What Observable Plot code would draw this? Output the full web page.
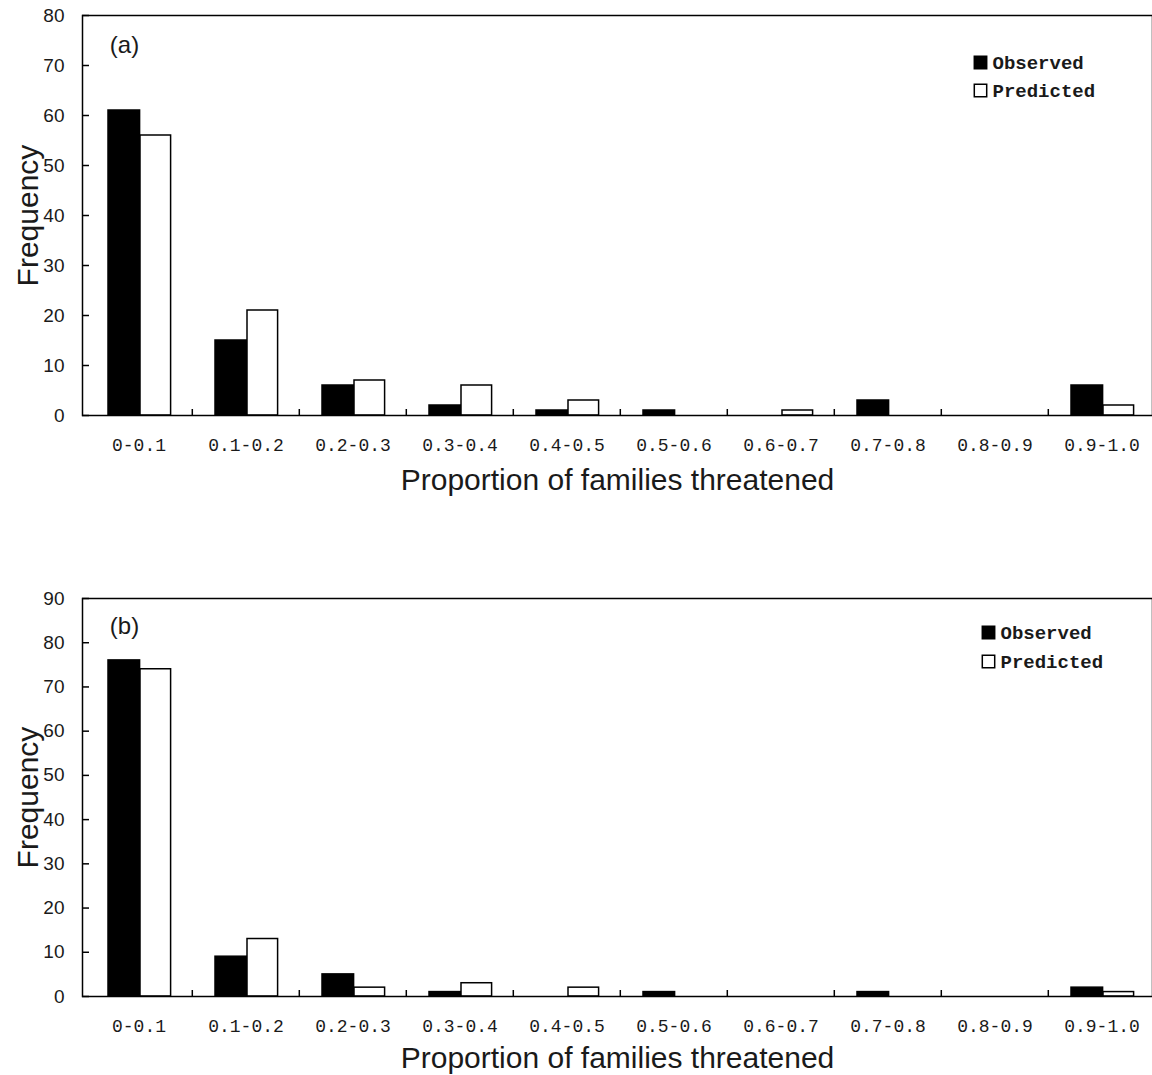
<!DOCTYPE html>
<html>
<head>
<meta charset="utf-8">
<script src="https://cdn.jsdelivr.net/npm/d3@7"></script>
<script src="https://cdn.jsdelivr.net/npm/@observablehq/plot@0.6"></script>
<style>
  html, body { margin: 0; padding: 0; background: #fff; overflow: hidden; }
  #chart > svg { display: block; }
</style>
</head>
<body>
<div id="chart"></div>
<script>
// ---- data ----
const categories = ["0-0.1","0.1-0.2","0.2-0.3","0.3-0.4","0.4-0.5","0.5-0.6","0.6-0.7","0.7-0.8","0.8-0.9","0.9-1.0"];
const observedA  = [61, 15, 6, 2, 1, 1, 0, 3, 0, 6];
const predictedA = [56, 21, 7, 6, 3, 0, 1, 0, 0, 2];
const observedB  = [76, 9, 5, 1, 0, 1, 0, 1, 0, 2];
const predictedB = [74, 13, 2, 3, 2, 0, 0, 0, 0, 1];
const yTicksA = [0, 10, 20, 30, 40, 50, 60, 70, 80];
const yTicksB = [0, 10, 20, 30, 40, 50, 60, 70, 80, 90];
const seriesNames = ["Observed", "Predicted"];
const xLabel = "Proportion of families threatened";
const yLabel = "Frequency";

const W = 1152;
const mL = 82;
const xRange = [82.5, 1156.5];
const bw = (xRange[1] - xRange[0]) / categories.length;
const sans = "Liberation Sans, Arial, sans-serif";
const mono = "Liberation Mono, Courier New, monospace";
const ink = "#1a1a1a";

function panel({obs, pred, yMax, yTicks, height, mT, mB, tag, tagDy, legDx, legDy, legGap, labDy}) {
  const plotH = height - mT - mB;
  const plotW = W - mL;
  const rows = categories.map((c, i) => ({cat: c, obs: obs[i], pred: pred[i]}));
  return Plot.plot({
    width: W, height,
    marginLeft: mL, marginRight: 0, marginTop: mT, marginBottom: mB,
    style: {background: "white", overflow: "visible"},
    x: {type: "band", domain: categories, range: xRange, padding: 0},
    y: {domain: [0, yMax]},
    marks: [
      Plot.rectY(rows.filter(d => d.obs > 0), {
        x: "cat", y: "obs", fill: "black", stroke: "black", strokeWidth: 1.5,
        insetLeft: 23, insetRight: bw - 55
      }),
      Plot.rectY(rows.filter(d => d.pred > 0), {
        x: "cat", y: "pred", fill: "white", stroke: "black", strokeWidth: 1.5,
        insetLeft: 55, insetRight: bw - 86
      }),
      Plot.ruleY(yTicks, {stroke: "black", strokeWidth: 1.5, insetRight: plotW - 7}),
      Plot.ruleX(categories.slice(1), {x: d => d, dx: -bw / 2, stroke: "black", strokeWidth: 1.5, insetTop: plotH - 6}),
      Plot.frame({stroke: "black", strokeWidth: 1.5}),
      Plot.axisY(yTicks, {tickSize: 0, tickPadding: 18, fontSize: 19, fontFamily: sans, fill: ink, label: null}),
      Plot.axisX({tickSize: 0, tickPadding: 23, fontSize: 18, fontFamily: mono, fill: ink, label: null}),
      Plot.text([xLabel], {text: d => d, frameAnchor: "bottom", dy: labDy, textAnchor: "middle", lineAnchor: "middle", fontSize: 30, fontFamily: sans, fill: ink}),
      Plot.text([yLabel], {text: d => d, frameAnchor: "left", dx: -54, rotate: -90, textAnchor: "middle", lineAnchor: "middle", fontSize: 30, fontFamily: sans, fill: ink}),
      Plot.text([tag], {text: d => d, frameAnchor: "top-left", dx: 42, dy: tagDy, textAnchor: "middle", lineAnchor: "middle", fontSize: 24, fontFamily: sans, fill: ink}),
      Plot.dot([seriesNames[0]], {frameAnchor: "top-right", dx: legDx, dy: legDy, symbol: "square", r: 7, fill: "black", stroke: "black"}),
      Plot.dot([seriesNames[1]], {frameAnchor: "top-right", dx: legDx, dy: legDy + legGap, symbol: "square", r: 7, fill: "white", stroke: "black", strokeWidth: 1.5}),
      Plot.text([seriesNames[0]], {text: d => d, frameAnchor: "top-right", dx: legDx + 12, dy: legDy, textAnchor: "start", lineAnchor: "middle", fontSize: 19, fontFamily: mono, fontWeight: "bold", fill: ink}),
      Plot.text([seriesNames[1]], {text: d => d, frameAnchor: "top-right", dx: legDx + 12, dy: legDy + legGap, textAnchor: "start", lineAnchor: "middle", fontSize: 19, fontFamily: mono, fontWeight: "bold", fill: ink})
    ]
  });
}

const chart = document.getElementById("chart");
chart.appendChild(panel({
  obs: observedA, pred: predictedA, yMax: 80, yTicks: yTicksA,
  height: 540, mT: 15, mB: 125, tag: "(a)", tagDy: 30,
  legDx: -172, legDy: 47, legGap: 28, labDy: 65
}));
chart.appendChild(panel({
  obs: observedB, pred: predictedB, yMax: 90, yTicks: yTicksB,
  height: 535, mT: 58, mB: 79, tag: "(b)", tagDy: 28,
  legDx: -164, legDy: 34, legGap: 29, labDy: 62
}));
</script>
</body>
</html>
